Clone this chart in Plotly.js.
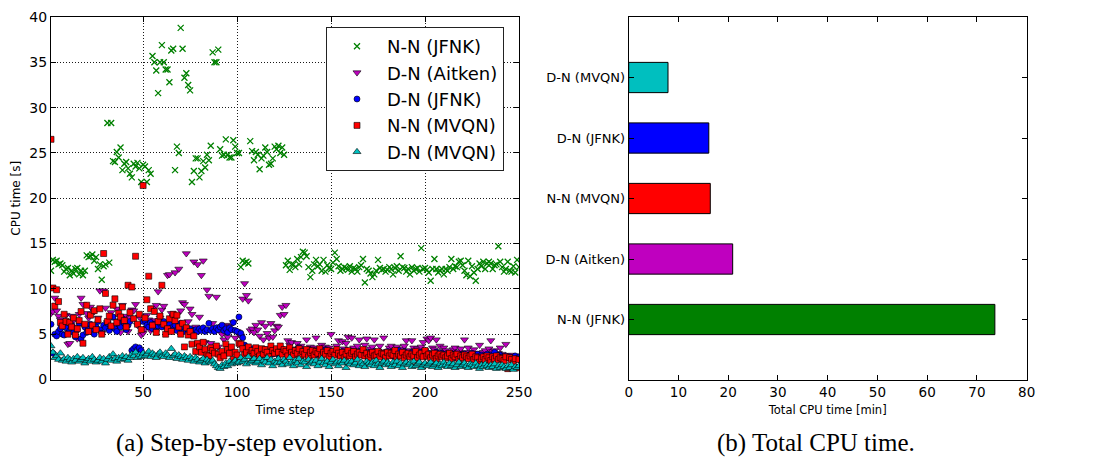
<!DOCTYPE html>
<html>
<head>
<meta charset="utf-8">
<script src="https://cdn.plot.ly/plotly-3.0.1.min.js"></script>
<style>
html,body{margin:0;padding:0;background:#fff;}
#chart{width:1108px;height:472px;}
</style>
</head>
<body>
<div id="chart"></div>
<script>
// ---------- DATA ----------
const seriesNames = ["N-N (JFNK)", "D-N (Aitken)", "D-N (JFNK)", "N-N (MVQN)", "D-N (MVQN)"];

const nnJFNK = [
12.0,13.2,13.0,13.1,12.7,12.8,12.6,11.9,12.2,12.3,
11.5,12.0,11.7,12.2,12.3,11.6,12.0,11.5,12.0,13.7,
13.5,13.6,13.8,13.1,13.5,12.2,12.7,11.0,12.5,12.7,
28.3,12.9,28.3,24.1,24.0,25.1,24.5,25.6,23.1,23.8,
24.0,23.3,22.7,22.3,23.8,23.5,23.9,23.3,21.8,23.7,
23.5,21.8,23.1,22.7,35.7,35.0,34.1,31.6,35.0,36.9,
35.0,34.2,34.2,32.8,36.3,36.5,23.1,25.7,25.0,38.8,
36.5,33.3,33.8,32.5,31.9,21.8,23.0,24.4,24.4,22.3,
23.0,24.1,23.4,24.8,24.2,25.8,36.1,35.0,35.0,36.4,
25.4,24.7,24.8,26.5,24.8,24.5,24.5,26.4,25.7,25.0,
25.0,12.4,13.1,12.9,13.0,12.8,26.3,25.2,24.2,25.1,
24.8,23.2,24.4,24.7,25.6,25.1,23.7,23.8,24.4,25.7,
25.4,25.8,25.0,25.6,24.8,12.6,13.1,12.1,12.7,12.7,
12.4,13.3,12.7,13.5,14.1,14.0,13.6,12.4,11.3,12.0,
12.7,13.2,12.5,12.7,12.0,13.2,11.9,12.6,12.3,12.2,
12.9,14.0,13.3,12.5,12.0,12.2,12.4,12.3,12.1,12.5,
11.9,12.3,12.2,11.9,12.4,12.6,13.3,10.7,12.2,12.0,
11.7,11.3,11.6,12.0,13.2,12.3,12.1,12.2,11.9,12.1,
12.4,12.2,11.6,12.3,12.5,12.0,13.6,12.4,12.3,11.9,
12.2,11.6,12.4,12.0,12.2,12.3,11.9,14.5,12.2,12.3,
12.1,11.8,10.9,12.2,13.3,12.2,11.8,12.0,12.2,11.6,
12.2,12.0,12.4,13.3,12.2,12.5,12.4,13.0,13.1,12.6,
12.0,11.5,13.1,11.4,12.5,11.8,10.9,12.2,12.8,12.5,
13.0,12.2,12.8,13.0,12.8,12.2,12.6,12.7,14.7,13.0,
12.4,11.9,12.2,13.0,12.0,11.9,12.5,11.8,13.2,12.4];

const dnAitken = [
7.3,7.5,9.0,7.6,7.0,6.6,5.8,6.3,7.1,3.9,
4.0,7.0,6.5,5.8,4.5,7.2,9.0,8.3,5.8,7.3,
6.8,8.0,5.2,7.5,5.5,6.8,9.8,5.1,9.8,7.9,
6.3,5.8,7.4,6.9,5.6,7.8,6.5,5.2,8.2,6.1,
7.0,5.3,6.8,7.7,7.6,8.3,6.0,6.9,4.9,5.1,
5.6,7.1,6.6,5.4,7.9,6.5,8.2,9.7,6.8,7.7,
8.1,5.9,11.5,11.6,7.3,6.9,11.8,7.1,12.2,7.6,
8.5,8.3,13.9,6.4,7.8,7.2,13.0,5.8,12.7,6.9,
11.5,13.1,4.1,9.9,9.2,4.0,6.2,5.5,9.1,3.6,
5.8,5.0,4.4,6.0,4.7,5.9,5.5,6.3,4.6,5.3,
5.0,4.8,8.9,10.6,9.3,8.7,5.4,5.6,5.2,6.0,
5.5,4.8,6.3,4.4,5.9,5.1,4.6,6.2,4.7,5.4,
5.9,5.8,7.1,8.0,7.2,8.2,4.3,3.8,4.1,3.4,
3.2,4.0,3.5,3.7,2.8,3.4,4.4,3.2,3.6,2.9,
3.5,4.6,2.7,3.3,3.8,3.1,3.6,2.9,3.5,5.0,
3.2,3.0,3.7,4.3,2.8,4.2,3.4,4.0,4.7,3.1,
4.6,3.5,3.2,3.7,4.4,2.8,3.2,3.8,4.5,3.0,
3.4,3.6,4.4,2.7,3.1,3.7,3.0,4.6,2.8,3.1,
3.5,3.7,3.0,3.2,3.6,2.9,3.1,3.4,3.7,4.3,
3.2,2.8,4.3,3.5,3.0,3.4,2.7,3.6,4.1,3.2,
4.5,4.3,4.6,3.5,3.3,4.4,3.1,3.7,2.9,3.5,
3.2,2.7,3.0,2.6,3.3,3.5,2.8,3.1,3.4,2.9,
4.4,3.0,3.5,2.7,2.8,3.3,2.9,2.6,3.8,2.7,
3.0,3.2,2.6,3.4,4.3,3.1,3.2,2.7,2.9,3.5,
2.8,2.6,3.9,2.5,2.4,2.7,2.3,2.5,2.6,2.2];

const dnJFNK = [
6.1,2.9,5.0,4.8,5.3,5.6,5.0,4.9,5.7,5.1,
5.4,6.0,5.2,4.7,5.5,6.2,4.5,4.9,5.8,5.2,
5.6,6.1,5.3,5.0,5.8,6.4,5.5,5.1,6.0,5.7,
6.2,5.4,5.9,6.9,5.6,5.3,6.1,5.8,6.7,6.2,
5.5,6.0,6.4,3.2,3.4,3.6,3.3,3.5,3.2,6.4,
6.5,6.0,5.8,6.3,5.6,6.1,5.4,5.9,6.2,5.8,
6.4,5.9,5.6,6.1,5.7,5.5,6.0,5.4,5.8,6.2,
5.5,5.3,5.7,5.4,5.6,5.2,5.4,5.5,5.3,5.6,
5.4,5.7,5.3,5.5,6.2,5.4,5.6,5.3,5.7,5.5,
5.8,6.0,5.4,5.6,5.2,5.7,5.5,6.3,5.4,5.3,
6.9,5.1,4.6,3.8,3.5,3.2,3.0,3.4,2.9,3.1,
2.8,3.2,3.0,2.7,3.3,2.6,2.9,3.1,2.8,3.0,
3.2,2.7,3.0,3.4,2.9,2.8,3.1,3.3,2.7,3.0,
3.2,2.9,3.5,3.0,2.8,3.1,2.9,3.3,2.7,3.0,
3.1,2.8,2.9,3.2,2.7,3.0,3.3,2.8,3.1,2.9,
2.8,3.0,3.2,2.7,2.9,3.1,2.8,3.0,2.6,2.9,
3.1,2.8,2.7,3.0,2.9,3.2,2.8,2.6,2.9,3.0,
2.7,2.9,3.1,2.8,2.6,3.0,2.8,2.9,2.7,3.1,
2.8,3.0,2.6,2.9,2.8,3.2,2.7,2.9,3.1,2.8,
2.6,2.9,3.0,2.7,2.8,2.5,2.9,3.0,2.7,2.8,
2.6,2.9,2.8,2.5,2.7,3.0,2.6,2.8,2.9,2.7,
2.5,2.8,2.6,2.9,2.7,2.4,2.8,2.6,2.7,2.5,
2.8,2.6,2.4,2.7,2.9,2.5,2.6,2.8,2.4,2.7,
2.5,2.6,2.8,2.4,2.7,2.5,3.0,2.6,2.4,2.7,
2.5,2.3,2.6,2.4,2.5,2.2,2.4,2.6,2.3,2.5];

const nnMVQN = [
26.5,10.1,8.1,9.9,8.6,6.3,5.9,7.2,6.4,5.0,
6.3,5.8,6.8,4.9,5.6,6.5,7.5,4.0,6.1,8.2,
5.3,7.1,6.0,7.6,5.5,6.6,7.8,5.0,13.9,9.5,
6.4,7.0,5.9,8.2,8.9,6.3,7.3,6.9,8.0,6.5,
5.8,10.4,7.4,10.2,6.7,13.6,6.1,7.2,5.5,21.4,
6.8,8.8,11.4,7.8,6.0,7.5,5.2,6.4,7.0,10.4,
6.1,5.0,5.6,6.7,5.3,7.2,6.5,7.1,5.8,5.0,
6.2,3.6,5.7,4.9,5.3,3.9,4.8,3.1,4.0,3.6,
3.0,4.1,3.3,2.7,2.6,3.5,3.2,2.9,3.7,2.8,
2.4,3.1,2.6,3.9,3.3,2.9,3.6,2.2,3.0,2.7,
4.0,3.9,3.4,2.7,3.0,3.6,2.7,3.2,2.9,3.5,
3.1,2.6,3.4,2.8,3.3,3.0,2.5,3.7,3.2,2.9,
3.4,3.0,3.7,2.8,3.3,3.1,2.6,3.5,3.0,2.7,
3.2,2.9,3.4,2.6,3.1,2.8,3.3,2.5,3.0,3.2,
2.7,3.1,2.9,3.4,2.6,3.0,2.8,3.2,2.5,2.9,
3.1,2.7,3.3,2.9,2.6,3.0,2.4,2.8,3.2,2.6,
2.9,3.1,2.5,2.8,3.0,2.7,3.3,2.6,2.9,2.4,
2.8,3.0,2.6,2.7,3.1,2.5,2.9,2.8,2.4,3.0,
2.6,2.9,2.7,3.2,2.5,2.8,2.6,3.0,2.4,2.7,
2.9,2.5,2.8,2.6,3.1,2.4,2.7,2.9,2.5,3.2,
2.6,2.8,2.4,2.7,2.9,2.3,2.6,2.8,2.5,2.7,
2.4,2.6,2.9,2.3,2.7,2.5,2.8,2.2,2.6,2.4,
2.7,2.5,2.3,2.6,2.8,2.2,2.5,2.4,1.9,2.3,
2.5,2.2,2.6,2.4,2.1,2.5,2.3,2.6,2.2,2.4,
2.3,2.1,2.5,1.2,2.4,2.2,1.8,2.3,1.3,2.2];

const dnMVQN = [
3.7,3.0,2.4,2.6,2.2,2.9,2.1,2.3,2.0,2.4,
2.2,1.9,2.3,2.1,2.5,2.0,2.2,2.4,1.8,2.1,
2.3,2.0,2.5,2.2,1.9,2.1,2.4,2.0,2.3,1.8,
2.2,2.5,2.1,2.8,2.3,2.0,2.4,2.2,2.6,2.3,
2.5,2.1,2.4,2.8,2.6,3.0,2.4,2.7,2.5,2.9,
2.6,2.8,3.1,2.5,2.9,2.7,2.4,2.8,3.0,2.6,
2.5,2.9,2.7,2.4,3.4,2.6,2.8,2.3,2.7,2.5,
2.2,2.6,2.4,2.1,2.5,2.3,2.0,2.4,2.2,1.9,
2.1,2.3,1.8,2.2,2.0,1.9,2.1,1.7,1.5,1.3,
1.2,1.6,1.4,1.8,1.5,2.0,1.7,1.9,2.1,1.8,
1.9,2.4,2.0,2.2,1.7,2.5,1.9,2.1,2.3,1.8,
2.0,2.3,1.6,2.1,1.9,2.4,1.8,2.2,1.5,2.0,
1.8,2.3,1.9,1.6,2.2,2.0,1.7,2.4,1.9,1.5,
2.1,1.8,2.3,1.6,2.0,1.9,1.4,2.2,1.8,2.0,
1.7,2.1,1.5,1.9,2.3,1.8,1.6,2.0,1.4,1.9,
2.2,1.7,1.9,1.5,2.0,1.8,2.1,1.3,1.9,1.7,
2.0,1.6,1.8,2.2,1.5,1.9,1.7,1.4,2.0,1.8,
1.6,1.9,1.5,2.1,1.7,1.3,1.8,2.0,1.6,1.9,
1.7,1.4,1.9,1.6,2.0,1.5,1.8,1.3,1.7,1.9,
1.6,1.8,1.4,2.0,1.5,1.7,1.9,1.3,1.6,1.8,
1.5,1.7,1.9,1.4,1.6,1.8,1.3,1.7,1.5,1.9,
1.6,1.4,1.8,1.5,1.7,1.3,1.6,1.9,1.4,1.6,
1.8,1.5,1.3,1.7,1.6,1.4,1.8,1.5,1.2,1.6,
1.4,1.7,1.5,1.3,1.6,1.4,1.7,1.2,1.5,1.3,
1.6,1.4,1.2,1.5,1.3,1.6,1.1,1.4,1.3,1.5];

// bar chart (b)
const barCategories = ["N-N (JFNK)", "D-N (Aitken)", "N-N (MVQN)", "D-N (JFNK)", "D-N (MVQN)"];
const barTotals = [73.6, 20.9, 16.4, 16.1, 7.9];
const barColors = ["#008000", "#bf00bf", "#ff0000", "#0000ff", "#00bfbf"];

const xTicksA = [50, 100, 150, 200, 250];
const captions = ["(a) Step-by-step evolution.", "(b) Total CPU time."];

// ---------- BUILD ----------
const steps = nnJFNK.map((_, i) => i + 1);
const F = "DejaVu Sans, sans-serif";

function sc(y, name, symbol, color, size, lw, lc) {
  return {
    type: "scatter", mode: "markers", x: steps, y: y, name: name,
    xaxis: "x", yaxis: "y",
    marker: {symbol: symbol, color: color, size: size, line: {width: lw, color: lc}}
  };
}

const traces = [
  sc(nnJFNK, seriesNames[0], "x-thin-open", "#008000", 6, 1.3, "#008000"),
  sc(dnAitken, seriesNames[1], "triangle-down", "#bf00bf", 7, 0.6, "#000"),
  sc(dnJFNK, seriesNames[2], "circle", "#0000ff", 6, 0.6, "#000"),
  sc(nnMVQN, seriesNames[3], "square", "#ff0000", 6, 0.6, "#000"),
  sc(dnMVQN, seriesNames[4], "triangle-up", "#00bfbf", 7, 0.6, "#000"),
  {
    type: "bar", orientation: "h", x: barTotals, y: barCategories,
    xaxis: "x2", yaxis: "y2", width: 0.5, showlegend: false,
    marker: {color: barColors, line: {color: "#000", width: 1}}
  }
];

const W = 1108, H = 472;
const axCommon = {
  showline: true, linecolor: "#000", linewidth: 1, mirror: "ticks",
  ticks: "inside", ticklen: 5, tickcolor: "#000", zeroline: false,
  tickfont: {family: F, size: 14, color: "#000"}
};

const layout = {
  width: W, height: H,
  margin: {l: 0, r: 0, t: 0, b: 0},
  paper_bgcolor: "#fff", plot_bgcolor: "#fff",
  showlegend: true,
  legend: {
    x: 326 / W, y: 1 - 27 / H, xanchor: "left", yanchor: "top",
    bgcolor: "#fff", bordercolor: "#222", borderwidth: 1,
    font: {family: F, size: 18, color: "#000"},
    itemwidth: 50, tracegroupgap: 0
  },
  xaxis: Object.assign({}, axCommon, {
    domain: [51 / W, 519 / W], anchor: "y",
    range: [1, 250], tickvals: xTicksA,
    showgrid: true, gridcolor: "#000", griddash: "1px,2px", gridwidth: 0.9,
    title: {text: "Time step", font: {family: F, size: 12, color: "#000"}, standoff: 6}
  }),
  yaxis: Object.assign({}, axCommon, {
    domain: [1 - 379.5 / H, 1 - 17 / H], anchor: "x",
    range: [0, 40], dtick: 5,
    showgrid: true, gridcolor: "#000", griddash: "1px,2px", gridwidth: 0.9,
    title: {text: "CPU time [s]", font: {family: F, size: 12, color: "#000"}, standoff: 6}
  }),
  xaxis2: Object.assign({}, axCommon, {
    domain: [628.7 / W, 1026.7 / W], anchor: "y2",
    range: [0, 80], dtick: 10, showgrid: false,
    tickfont: {family: F, size: 13.5, color: "#000"},
    title: {text: "Total CPU time [min]", font: {family: F, size: 11.5, color: "#000"}, standoff: 6}
  }),
  yaxis2: Object.assign({}, axCommon, {
    domain: [1 - 380 / H, 1 - 17 / H], anchor: "x2",
    type: "category", categoryorder: "array", categoryarray: barCategories,
    range: [-1, 5], showgrid: false,
    tickfont: {family: F, size: 13, color: "#000"}
  }),
  annotations: [
    {text: captions[0], xref: "paper", yref: "paper", x: 250 / W, y: 1 - 443 / H,
     xanchor: "center", yanchor: "middle", showarrow: false,
     font: {family: "Liberation Serif, DejaVu Serif, serif", size: 25, color: "#000"}},
    {text: captions[1], xref: "paper", yref: "paper", x: 816 / W, y: 1 - 443 / H,
     xanchor: "center", yanchor: "middle", showarrow: false,
     font: {family: "Liberation Serif, DejaVu Serif, serif", size: 25, color: "#000"}}
  ]
};

Plotly.newPlot("chart", traces, layout, {displayModeBar: false, staticPlot: true});
</script>
</body>
</html>
